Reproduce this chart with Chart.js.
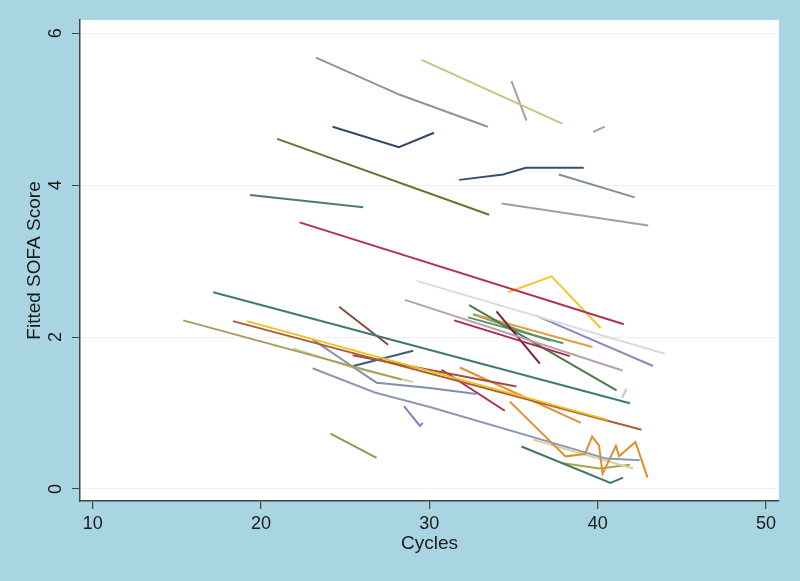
<!DOCTYPE html>
<html>
<head>
<meta charset="utf-8">
<script src="https://cdn.jsdelivr.net/npm/chart.js@4.4.1/dist/chart.umd.min.js"></script>
<style>
  html, body { margin: 0; padding: 0; background: #a9d5e2; }
  #c { display: block; }
</style>
</head>
<body>
<canvas id="c" width="800" height="581"></canvas>
<script>
// tick values
const xTicks = [10, 20, 30, 40, 50];
const yTicks = [0, 2, 4, 6];

// one array per patient: [cycles, fitted SOFA score]
const p01 = [[23.26, 5.68], [28.25, 5.19], [33.47, 4.77]];
const p02 = [[29.54, 5.65], [37.89, 4.81]];
const p03 = [[34.88, 5.37], [35.77, 4.85]];
const p04 = [[39.73, 4.70], [40.42, 4.77]];
const p05 = [[24.25, 4.77], [28.19, 4.50], [30.28, 4.69]];
const p06 = [[20.96, 4.61], [33.55, 3.61]];
const p07 = [[19.34, 3.87], [26.07, 3.71]];
const p08 = [[31.77, 4.07], [34.38, 4.14], [35.73, 4.23], [39.17, 4.23]];
const p09 = [[37.69, 4.14], [42.20, 3.84]];
const p10 = [[34.29, 3.76], [43.00, 3.47]];
const p11 = [[22.29, 3.51], [41.55, 2.17]];
const p12 = [[34.68, 2.59], [37.26, 2.80], [40.17, 2.12]];
const p13 = [[29.24, 2.74], [43.98, 1.78]];
const p14 = [[36.37, 2.28], [43.29, 1.62]];
const p15 = [[28.55, 2.49], [41.47, 1.56]];
const p16 = [[31.47, 2.22], [38.34, 1.75]];
const p17 = [[33.99, 2.34], [36.56, 1.65]];
const p18 = [[32.36, 2.42], [41.12, 1.30]];
const p19 = [[32.80, 2.29], [39.69, 1.87]];
const p20 = [[32.30, 2.26], [37.95, 1.92]];
const p21 = [[32.60, 2.30], [37.20, 1.95]];
const p22 = [[17.16, 2.59], [41.91, 1.13]];
const p23 = [[15.38, 2.22], [28.35, 1.44]];
const p24 = [[19.15, 2.21], [40.60, 0.91]];
const p25 = [[18.33, 2.21], [42.60, 0.78]];
const p26 = [[24.64, 2.40], [27.55, 1.90]];
const p27 = [[25.48, 1.62], [29.04, 1.82]];
const p28 = [[25.44, 1.76], [35.18, 1.35]];
const p29 = [[23.06, 1.97], [25.38, 1.62], [26.86, 1.40], [30.03, 1.33], [32.80, 1.25]];
const p30 = [[23.06, 1.59], [26.76, 1.27], [30.03, 1.08], [40.52, 0.40], [42.50, 0.38]];
const p31 = [[21.91, 1.85], [25.28, 1.61], [29.04, 1.41]];
const p32 = [[24.13, 0.73], [26.86, 0.41]];
const p33 = [[28.49, 1.09], [29.44, 0.83], [29.60, 0.87]];
const p34 = [[30.72, 1.57], [34.48, 1.03]];
const p35 = [[31.81, 1.60], [39.00, 0.87]];
const p36 = [[34.78, 1.15], [38.09, 0.43], [39.24, 0.46], [39.67, 0.69], [40.08, 0.57],
             [40.29, 0.20], [41.08, 0.57], [41.27, 0.43], [42.24, 0.62], [42.96, 0.15]];
const p37 = [[35.47, 0.56], [40.76, 0.08], [41.51, 0.15]];
const p38 = [[36.16, 0.65], [42.10, 0.27]];
const p39 = [[37.95, 0.34], [40.12, 0.27], [41.91, 0.32]];
const p40 = [[41.45, 1.20], [41.70, 1.32]];

const patients = [p01, p02, p03, p04, p05, p06, p07, p08, p09, p10,
                  p11, p12, p13, p14, p15, p16, p17, p18, p19, p20,
                  p21, p22, p23, p24, p25, p26, p27, p28, p29, p30,
                  p31, p32, p33, p34, p35, p36, p37, p38, p39, p40];

const colors = ['#8c9696', '#c8c282', '#b09aa8', '#a8a0b8', '#34476a', '#6e6e30', '#4f7a6c', '#34506e', '#7f9290', '#9aa0ac',
                '#b0305a', '#f2c62e', '#d6dce6', '#8e88c0', '#b8a2a8', '#b02850', '#7a2038', '#4d7a48', '#e0a040', '#5c9070',
                '#8a9060', '#3f7a6c', '#a89a60', '#f0c020', '#a8603a', '#8a4a3a', '#3a5a80', '#a0503a', '#8090a8', '#8c98b0',
                '#d0cfa0', '#9a9450', '#8080c0', '#b02848', '#e09030', '#e0902a', '#3f7a60', '#d8d0a0', '#b0a050', '#b0d0d8'];

const font = '"Liberation Sans", Arial, sans-serif';

const frame = {
    id: 'frame',
    beforeDraw(chart) {
        const { ctx, chartArea: a } = chart;
        ctx.save();
        ctx.fillStyle = '#a9d5e2';
        ctx.fillRect(0, 0, chart.width, chart.height);
        ctx.fillStyle = '#ffffff';
        ctx.fillRect(a.left, a.top, a.right - a.left, a.bottom - a.top);
        ctx.restore();
    },
    afterDraw(chart) {
        const { ctx, chartArea: a, scales } = chart;
        ctx.save();
        ctx.fillStyle = '#1a1a1a';
        ctx.font = '18px ' + font;
        ctx.textAlign = 'center';
        ctx.textBaseline = 'middle';
        // rotated y tick labels
        yTicks.forEach(v => {
            ctx.save();
            ctx.translate(56, scales.y.getPixelForValue(v));
            ctx.rotate(-Math.PI / 2);
            ctx.fillText(String(v), 0, 0);
            ctx.restore();
        });
        // axis titles
        ctx.font = '19px ' + font;
        ctx.save();
        ctx.translate(35, (a.top + a.bottom) / 2);
        ctx.rotate(-Math.PI / 2);
        ctx.fillText('Fitted SOFA Score', 0, 0);
        ctx.restore();
        ctx.fillText('Cycles', (a.left + a.right) / 2, 544);
        ctx.restore();
    }
};

new Chart(document.getElementById('c'), {
    type: 'scatter',
    data: {
        datasets: patients.map((p, i) => ({
            data: p.map(d => ({ x: d[0], y: d[1] })),
            showLine: true,
            borderColor: colors[i],
            backgroundColor: colors[i],
            borderWidth: 2,
            pointRadius: 0,
            tension: 0,
            fill: false,
        })),
    },
    options: {
        responsive: false,
        animation: false,
        layout: { padding: { left: 0, right: 21, top: 20, bottom: 0 } },
        plugins: {
            legend: { display: false },
            tooltip: { enabled: false },
        },
        scales: {
            x: {
                type: 'linear',
                min: 9.245,
                max: 50.77,
                afterBuildTicks: s => { s.ticks = xTicks.map(v => ({ value: v })); },
                afterFit: s => { s.height = 80; },
                grid: { drawOnChartArea: false, tickColor: '#444', tickLength: 8, lineWidth: 1.2 },
                border: { color: '#444', width: 1.5 },
                ticks: { color: '#1a1a1a', font: { family: font, size: 18 }, padding: 4, maxRotation: 0 },
            },
            y: {
                type: 'linear',
                min: -0.158,
                max: 6.175,
                afterBuildTicks: s => { s.ticks = yTicks.map(v => ({ value: v })); },
                afterFit: s => { s.width = 80; },
                grid: { color: '#eceef1', lineWidth: 1, tickColor: '#444', tickLength: 8 },
                border: { color: '#444', width: 1.5 },
                ticks: { display: false },
            },
        },
    },
    plugins: [frame],
});
</script>
</body>
</html>
